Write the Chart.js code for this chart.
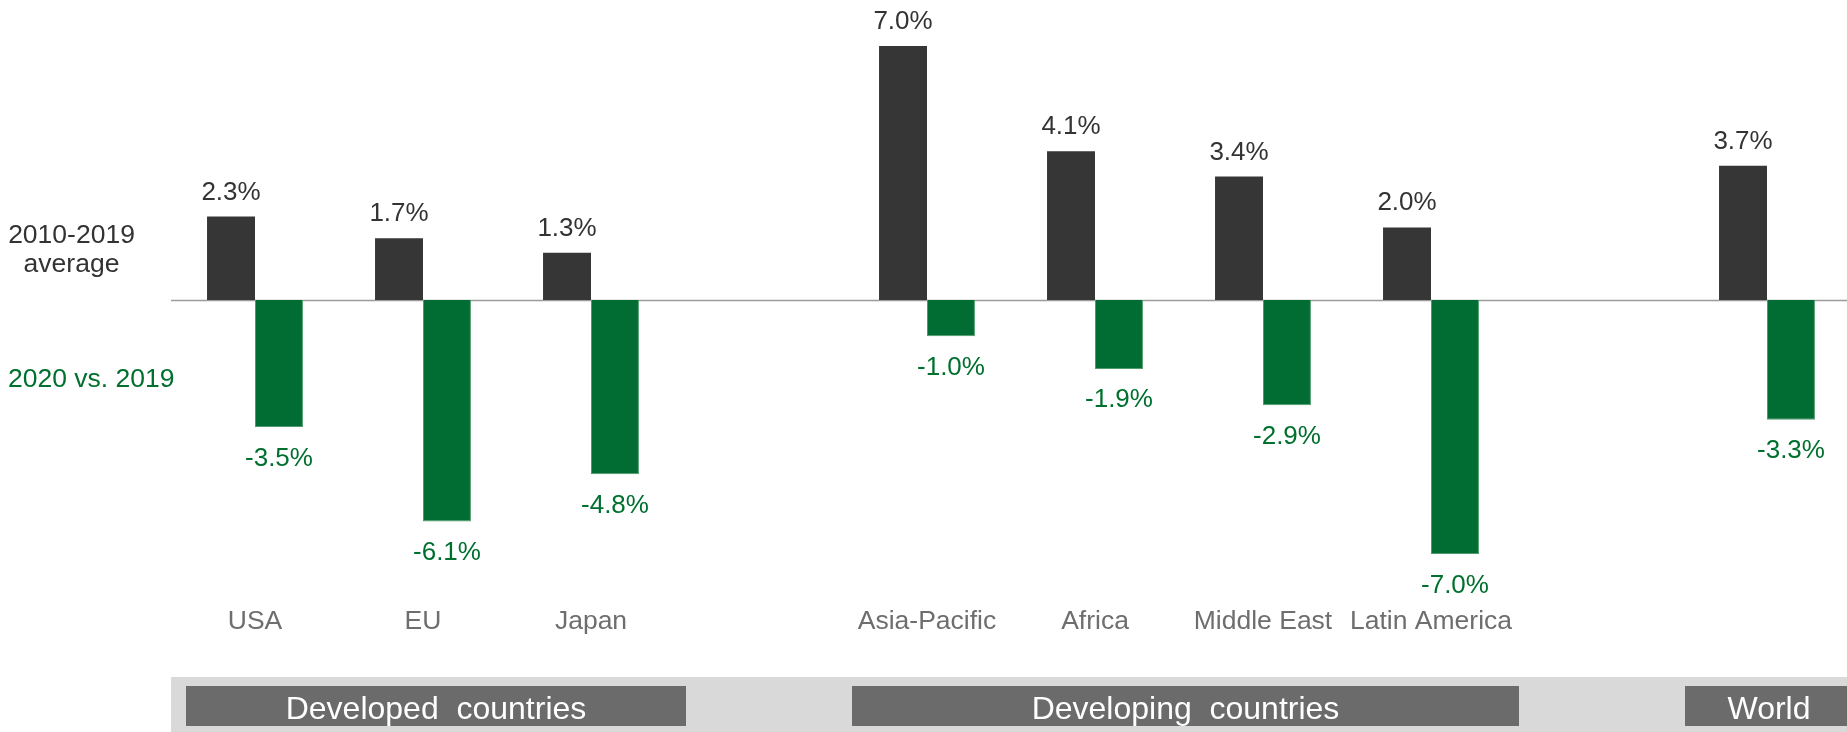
<!DOCTYPE html>
<html>
<head>
<meta charset="utf-8">
<script src="https://cdn.jsdelivr.net/npm/chart.js@4/dist/chart.umd.min.js"></script>
<style>
  html, body { margin: 0; padding: 0; background: #ffffff; overflow: hidden; }
  #wrap { position: relative; width: 1851px; height: 732px; }
</style>
</head>
<body>
<div id="wrap"><canvas id="c" width="1851" height="732"></canvas></div>
<script>
// ---- data ----
const categories = ['USA', 'EU', 'Japan', '', 'Asia-Pacific', 'Africa', 'Middle East', 'Latin America', '', 'World'];
const avg2010_2019 = [2.3, 1.7, 1.3, null, 7.0, 4.1, 3.4, 2.0, null, 3.7];
const change2020 = [-3.5, -6.1, -4.8, null, -1.0, -1.9, -2.9, -7.0, null, -3.3];
const seriesNames = ['2010-2019 average', '2020 vs. 2019'];
const groupNames = ['Developed  countries', 'Developing  countries', 'World'];
const groupFirst = [0, 4, 9];
const groupLast = [2, 7, 9];

// ---- style ----
const DARK = '#363636';
const GREEN = '#016d33';
const GREEN_TEXT = '#00702f';
const FONT = '"Liberation Sans", Arial, sans-serif';
const groupInsets = [[15, 11], [9, 4], [2, 2]];

const annotate = {
  id: 'annotate',
  beforeDatasetsDraw(chart) {
    const ctx = chart.ctx, ca = chart.chartArea, y = chart.scales.y;
    const y0 = Math.round(y.getPixelForValue(0)) + 0.5;
    ctx.save();
    ctx.strokeStyle = '#9c9c9c';
    ctx.lineWidth = 1.5;
    ctx.beginPath();
    ctx.moveTo(ca.left, y0);
    ctx.lineTo(chart.width, y0);
    ctx.stroke();
    ctx.restore();
  },
  afterDatasetsDraw(chart) {
    const ctx = chart.ctx;
    ctx.save();
    ctx.font = '26px ' + FONT;
    ctx.textAlign = 'center';
    ctx.textBaseline = 'alphabetic';
    chart.data.datasets.forEach((ds, di) => {
      const meta = chart.getDatasetMeta(di);
      meta.data.forEach((bar, i) => {
        const v = ds.data[i];
        if (v === null || v === undefined) return;
        const txt = v.toFixed(1) + '%';
        if (v >= 0) {
          ctx.fillStyle = '#333333';
          ctx.fillText(txt, bar.x, bar.y - 17);
        } else {
          ctx.fillStyle = GREEN_TEXT;
          ctx.fillText(txt, bar.x, bar.y + 38.5);
        }
      });
    });
    // series labels on the left
    ctx.font = '26.5px ' + FONT;
    ctx.fillStyle = '#333333';
    ctx.textAlign = 'center';
    ctx.fillText('2010-2019', 71.5, 243);
    ctx.fillText('average', 71.5, 272);
    ctx.fillStyle = GREEN_TEXT;
    ctx.textAlign = 'left';
    ctx.fillText(seriesNames[1], 8, 387);

    // group band
    const ca = chart.chartArea;
    const xs = chart.scales.x;
    const half = (xs.getPixelForValue(1) - xs.getPixelForValue(0)) / 2;
    ctx.fillStyle = '#d9d9d9';
    ctx.fillRect(ca.left, 677, chart.width - ca.left, 55);
    ctx.font = '32px ' + FONT;
    ctx.textAlign = 'center';
    groupNames.forEach((name, g) => {
      const x0 = xs.getPixelForValue(groupFirst[g]) - half + groupInsets[g][0];
      const x1 = xs.getPixelForValue(groupLast[g]) + half + groupInsets[g][1];
      ctx.fillStyle = '#6b6b6b';
      ctx.fillRect(x0, 686, x1 - x0, 40);
      ctx.fillStyle = '#ffffff';
      ctx.fillText(name, (x0 + x1) / 2, 719);
    });
    ctx.restore();
  }
};

new Chart(document.getElementById('c'), {
  type: 'bar',
  data: {
    labels: categories,
    datasets: [
      { label: seriesNames[0], data: avg2010_2019, backgroundColor: DARK, borderWidth: 0 },
      { label: seriesNames[1], data: change2020, backgroundColor: GREEN, borderColor: '#4f9a6e', borderWidth: 1 }
    ]
  },
  options: {
    responsive: false,
    animation: false,
    devicePixelRatio: 1,
    layout: { padding: { left: 171, right: 0, top: 0, bottom: 0 } },
    datasets: { bar: { categoryPercentage: 0.571, barPercentage: 1.0 } },
    plugins: { legend: { display: false }, tooltip: { enabled: false } },
    scales: {
      x: {
        grid: { display: false, drawTicks: false },
        border: { display: false },
        ticks: {
          color: '#6e6e6e', font: { family: FONT, size: 26.5 }, padding: 6, maxRotation: 0, autoSkip: false,
          callback(value, index) {
            const lab = categories[index];
            // single-category groups are named only in the band below
            return groupNames.includes(lab) ? '' : lab;
          }
        },
        afterFit(scale) { scale.height = 132; }
      },
      y: {
        display: false,
        min: -8.264,
        max: 8.264
      }
    }
  },
  plugins: [annotate]
});
</script>
</body>
</html>
